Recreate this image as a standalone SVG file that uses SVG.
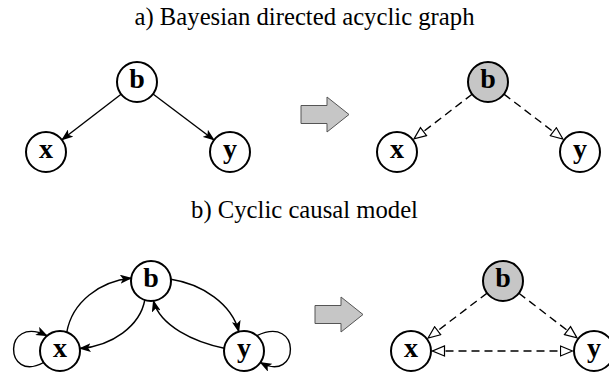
<svg xmlns="http://www.w3.org/2000/svg" width="609" height="373" viewBox="0 0 609 373">
<style>
.title{font-family:"Liberation Serif","Times New Roman",serif;font-size:24.7px;fill:#000;text-anchor:middle}
.lbl{font-family:"Liberation Serif","Times New Roman",serif;font-size:28px;font-weight:bold;fill:#000;text-anchor:middle}
.node{fill:#fff;stroke:#000;stroke-width:2}
.obs{fill:#c6c6c6;stroke:#000;stroke-width:2}
.e{fill:none;stroke:#000;stroke-width:1.4}
.solid{marker-end:url(#ah)}
.dash{stroke-dasharray:8 5;marker-end:url(#oh)}
.big{fill:#c6c6c6;stroke:#555;stroke-width:1}
</style>
<defs>
<marker id="ah" viewBox="0 0 12 9" refX="11" refY="4.5" markerWidth="12" markerHeight="9" orient="auto" markerUnits="userSpaceOnUse">
<path d="M0,0 L12,4.5 L0,9 L2.8,4.5 z" fill="#000"/>
</marker>
<marker id="oh" viewBox="-1 -1 14 12" refX="12" refY="5" markerWidth="14" markerHeight="12" orient="auto-start-reverse" markerUnits="userSpaceOnUse">
<path d="M0,0 L12,5 L0,10 z" fill="#fff" stroke="#000" stroke-width="1.2"/>
</marker>
</defs>
<rect width="609" height="373" fill="#fff"/>
<text class="title" x="304.5" y="25">a) Bayesian directed acyclic graph</text>
<text class="title" x="304.5" y="218">b) Cyclic causal model</text>

<g id="connectors">
<line class="e solid" x1="121.1" y1="94.2" x2="61.9" y2="139.8"/>
<line class="e solid" x1="153" y1="94" x2="214" y2="140"/>
<line class="e dash" x1="472.1" y1="94.2" x2="414" y2="138.9"/>
<line class="e dash" x1="503.9" y1="94.1" x2="562.9" y2="139"/>
<path class="e solid" d="M66.8,332.2 C72,302 100,281 131.2,278.2"/>
<path class="e solid" d="M144.8,300 C140,326 112,346 79.8,348.5"/>
<path class="e solid" d="M170.9,279.3 C202,284 232,304 238.8,331.7"/>
<path class="e solid" d="M224.2,348.2 C194,342 160,326 153.4,300.8"/>
<path class="e solid" d="M43.6,362.5 C4,384 2,314 47.1,335.7"/>
<path class="e solid" d="M256.9,335.7 C302,314 300,384 260.4,362.5"/>
<line class="e dash" x1="487.1" y1="293.1" x2="428.1" y2="338"/>
<line class="e dash" x1="518.9" y1="293.2" x2="577" y2="337.9"/>
<line class="e dash" style="marker-start:url(#oh)" x1="432.5" y1="351" x2="572.5" y2="351"/>
</g>

<g id="arrow-a"><polygon class="big" points="301,105.5 327,105.5 327,97 349,114.5 327,132 327,123.5 301,123.5"/></g>
<g id="arrow-b"><polygon class="big" points="315,305.5 341,305.5 341,297 363,314.5 341,332 341,323.5 315,323.5"/></g>

<g id="a-b"><circle class="node" cx="137" cy="82" r="20"/><text class="lbl" x="137" y="88">b</text></g>
<g id="a-x"><circle class="node" cx="46" cy="152" r="20"/><text class="lbl" x="46" y="158">x</text></g>
<g id="a-y"><circle class="node" cx="230" cy="152" r="20"/><text class="lbl" x="230" y="158">y</text></g>

<g id="a2-b"><circle class="obs" cx="488" cy="82" r="20"/><text class="lbl" x="488" y="88">b</text></g>
<g id="a2-x"><circle class="node" cx="397" cy="152" r="20"/><text class="lbl" x="397" y="158">x</text></g>
<g id="a2-y"><circle class="node" cx="580" cy="152" r="20"/><text class="lbl" x="580" y="158">y</text></g>

<g id="b-b"><circle class="node" cx="151" cy="281" r="20"/><text class="lbl" x="151" y="287">b</text></g>
<g id="b-x"><circle class="node" cx="60" cy="351" r="20"/><text class="lbl" x="60" y="357">x</text></g>
<g id="b-y"><circle class="node" cx="244" cy="351" r="20"/><text class="lbl" x="244" y="357">y</text></g>

<g id="b2-b"><circle class="obs" cx="503" cy="281" r="20"/><text class="lbl" x="503" y="287">b</text></g>
<g id="b2-x"><circle class="node" cx="411" cy="351" r="20"/><text class="lbl" x="411" y="357">x</text></g>
<g id="b2-y"><circle class="node" cx="594" cy="351" r="20"/><text class="lbl" x="594" y="357">y</text></g>
</svg>
